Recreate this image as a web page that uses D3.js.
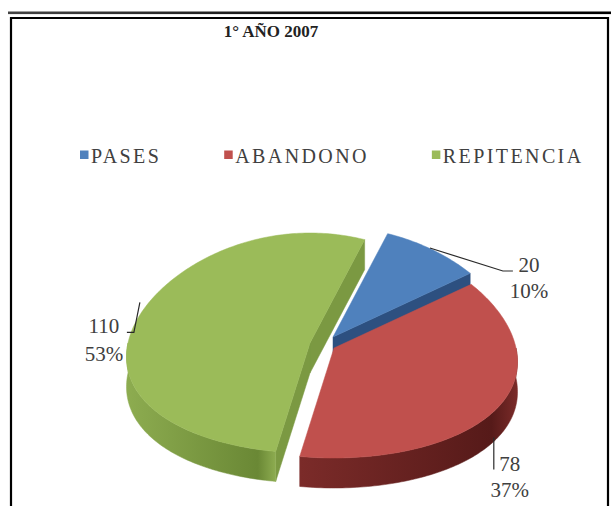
<!DOCTYPE html>
<html><head><meta charset="utf-8">
<script src="https://cdn.jsdelivr.net/npm/d3@7"></script>
<style>html,body{margin:0;padding:0;background:#fff;} svg{display:block}</style>
</head><body>
<svg id="chart" width="611" height="506"></svg>
<script>
// ---- data ----
const title = "1° AÑO 2007";
const categories = ["PASES", "ABANDONO", "REPITENCIA"];
const values = [20, 78, 110];
const percentLabels = ["10%", "37%", "53%"];

// ---- style / layout ----
const topColors  = ["#4f81bd", "#c0504d", "#9bbb59"];
const cutColors  = ["#2d5080", "#7a2a28", "#7b9942"];
const sideLight  = ["#3a64a0", "#7b2b29", "#8dac50"];
const sideDark   = ["#2a4a78", "#561a19", "#6a8835"];
const explodeOffsets = [[15, -8], [16, 3], [-8, -2]];
const cx = 318, cy = 345, rx = 182, ry = 110, depth = 30, persp = 0.13;
const rotation = 20 * Math.PI / 180;
const serif = "'Liberation Serif', 'Times New Roman', serif";
const textColor = "#404040";
// leader/label offsets relative to an anchor on each slice edge
const labelLayout = [
  {onBottom: false, leader: [[-2,-1.5],[71,21.5],[81,21.5]], tx: 97,  ty: [22.5, 48.5]},
  {onBottom: true,  leader: [[-5,1],[-5,33]],                 tx: 11,  ty: [35, 61]},
  {onBottom: false, leader: [[0,-12.5],[-6,17.5],[-13,17.5]], tx: -36, ty: [18.5, 46.5]}
];

const svg = d3.select("#chart");
const defs = svg.append("defs");

// frame
const lg = defs.append("linearGradient").attr("id","rule").attr("x1","0").attr("x2","1");
lg.append("stop").attr("offset","0").attr("stop-color","#444");
lg.append("stop").attr("offset","0.5").attr("stop-color","#111");
lg.append("stop").attr("offset","1").attr("stop-color","#000");
svg.append("rect").attr("x",8).attr("y",11.5).attr("width",603).attr("height",2.6).attr("fill","url(#rule)");
svg.append("path").attr("d","M11,520 L11,18 L608,18 L608,520")
  .attr("fill","none").attr("stroke","#000").attr("stroke-width",2.2);

// title
svg.append("text").attr("x",271).attr("y",37).attr("text-anchor","middle")
  .style("font-family",serif).attr("font-weight","bold").attr("font-size",17)
  .attr("fill","#222").text(title);

// legend
const legend = svg.append("g");
let lx = 80;
categories.forEach((c,i)=>{
  legend.append("rect").attr("x",lx).attr("y",150.5).attr("width",8.5).attr("height",8.5).attr("fill",topColors[i]);
  const t = legend.append("text").attr("x",lx+11).attr("y",163)
    .style("font-family",serif).attr("font-size",20).attr("letter-spacing","2.4px")
    .attr("fill",textColor).text(c);
  lx += 11 + t.node().getComputedTextLength() + 63;
});

// 3D pie
const arcs = d3.pie().sort(null).value(d=>d).startAngle(rotation).endAngle(rotation + 2*Math.PI)(values);

function pt(c, a, dy=0){
  const s = 1 - persp*Math.cos(a);
  return [c[0] + rx*Math.sin(a)*s, c[1] - ry*Math.cos(a) + dy];
}
function arcPts(c, a0, a1, dy=0){
  const n = Math.max(2, Math.ceil(Math.abs(a1-a0)/(Math.PI/180)));
  return d3.range(n+1).map(k => pt(c, a0 + (a1-a0)*k/n, dy));
}
const line = d3.line();

const sides = [], tops = [];
arcs.forEach((a,i)=>{
  const mid = (a.startAngle + a.endAngle)/2;
  const c = [cx + explodeOffsets[i][0], cy + explodeOffsets[i][1]];
  a.center = c; a.mid = mid;
  for (let k=-1;k<=1;k++){
    const lo = Math.PI/2 + 2*Math.PI*k, hi = 3*Math.PI/2 + 2*Math.PI*k;
    const s = Math.max(a.startAngle, lo), e = Math.min(a.endAngle, hi);
    if (e > s){
      const ptsTop = arcPts(c, s, e, 0), ptsBot = arcPts(c, e, s, depth);
      sides.push({i, kind:"outer", d: line(ptsTop.concat(ptsBot)) + "Z", z: c[1] + ry,
        x0: d3.min(ptsTop,p=>p[0]), x1: d3.max(ptsTop,p=>p[0])});
    }
  }
  [[a.startAngle, -1],[a.endAngle, 1]].forEach(([ang, dir])=>{
    const nz = dir > 0 ? -Math.sin(ang) : Math.sin(ang);
    if (nz < 0){
      const p = pt(c, ang);
      const d = line([c, p, [p[0], p[1]+depth], [c[0], c[1]+depth]]) + "Z";
      sides.push({i, kind:"cut", d, z: (c[1]+p[1])/2});
    }
  });
  tops.push({i, d: line([c].concat(arcPts(c, a.startAngle, a.endAngle))) + "Z"});
});

sides.sort((p,q)=>p.z-q.z);
sides.forEach((s,j)=>{
  let fill = cutColors[s.i];
  if (s.kind === "outer"){
    const id = "g"+j;
    const g = defs.append("linearGradient").attr("id",id).attr("gradientUnits","userSpaceOnUse")
      .attr("x1",s.x0).attr("x2",s.x1).attr("y1",0).attr("y2",0);
    g.append("stop").attr("offset","0").attr("stop-color",sideLight[s.i]);
    g.append("stop").attr("offset","0.88").attr("stop-color",sideDark[s.i]);
    g.append("stop").attr("offset","1").attr("stop-color",sideLight[s.i]);
    fill = "url(#"+id+")";
  }
  svg.append("path").attr("d",s.d).attr("fill",fill).attr("stroke",fill).attr("stroke-width",0.5);
});
tops.forEach(t=>{
  svg.append("path").attr("d",t.d).attr("fill",topColors[t.i]).attr("stroke",topColors[t.i]).attr("stroke-width",0.5);
});

// labels with leader lines
arcs.forEach((a,i)=>{
  const L = labelLayout[i];
  const anc = pt(a.center, a.mid, L.onBottom ? depth : 0);
  const pts = L.leader.map(o=>[anc[0]+o[0], anc[1]+o[1]]);
  svg.append("path").attr("d", line(pts)).attr("fill","none").attr("stroke","#2a2a2a").attr("stroke-width",1.2);
  const g = svg.append("text").attr("text-anchor","middle").style("font-family",serif)
    .attr("font-size",21).attr("fill",textColor);
  g.append("tspan").attr("x",anc[0]+L.tx).attr("y",anc[1]+L.ty[0]).text(values[i]);
  g.append("tspan").attr("x",anc[0]+L.tx).attr("y",anc[1]+L.ty[1]).text(percentLabels[i]);
});
</script>
</body></html>
